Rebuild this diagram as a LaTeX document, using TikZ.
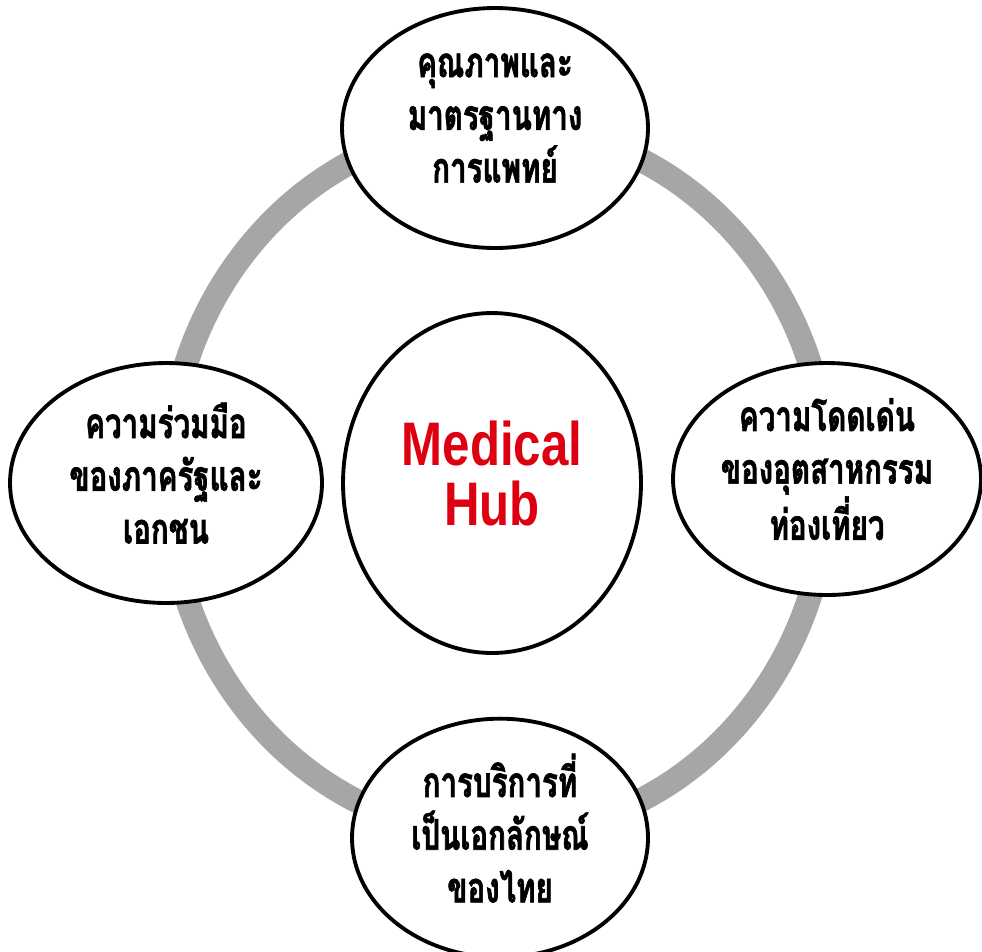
\documentclass[tikz,border=0pt]{standalone}
\usepackage{fontspec}
\newfontfamily\thaifont[Script=Thai, FakeStretch=0.7, FakeBold=1.5]{Loma}
\newfontfamily\hubfont[FakeStretch=0.8]{Liberation Sans}
\usepackage{tikz}
\usetikzlibrary{positioning}
\usetikzlibrary{shapes.geometric}
\definecolor{hubred}{RGB}{221,0,17}
\definecolor{ringgray}{RGB}{166,166,166}
\tikzstyle{topic}=[draw, ellipse, fill=white, line width=2.2pt, inner sep=0pt, align=center, text depth=0.4cm, font=\thaifont\bfseries\fontsize{24}{30}\selectfont]
\tikzstyle{hub}=[topic, text=hubred, font=\hubfont\bfseries\fontsize{35}{34}\selectfont]
\tikzstyle{ring}=[draw=ringgray, line width=0.48cm]

\begin{document}
\begin{tikzpicture}[x=0.02cm, y=-0.02cm]
				
				\useasboundingbox (0,0) rectangle (982,951);
				
				% grey ring behind the four topics
				\draw [ring] (498,480) ellipse [x radius=330, y radius=355];
				
				\node (hub) [hub, minimum width=5.96cm, minimum height=6.8cm] at (492,483) {Medical\\Hub};
				%
				\node (quality) [topic, minimum width=6.12cm, minimum height=4.8cm] at (495,128) {คุณภาพและ\\มาตรฐานทาง\\การแพทย์};
				\node (coop) [topic, minimum width=6.24cm, minimum height=4.8cm] at (166,483) {ความร่วมมือ\\ของภาครัฐและ\\เอกชน};
				\node (tour) [topic, minimum width=6.16cm, minimum height=4.64cm] at (827,479) {ความโดดเด่น\\ของอุตสาหกรรม\\ท่องเที่ยว};
				\node (service) [topic, minimum width=5.92cm, minimum height=4.4cm] at (500,838) {การบริการที่\\เป็นเอกลักษณ์\\ของไทย};
				
				\end{tikzpicture}
\end{document}
